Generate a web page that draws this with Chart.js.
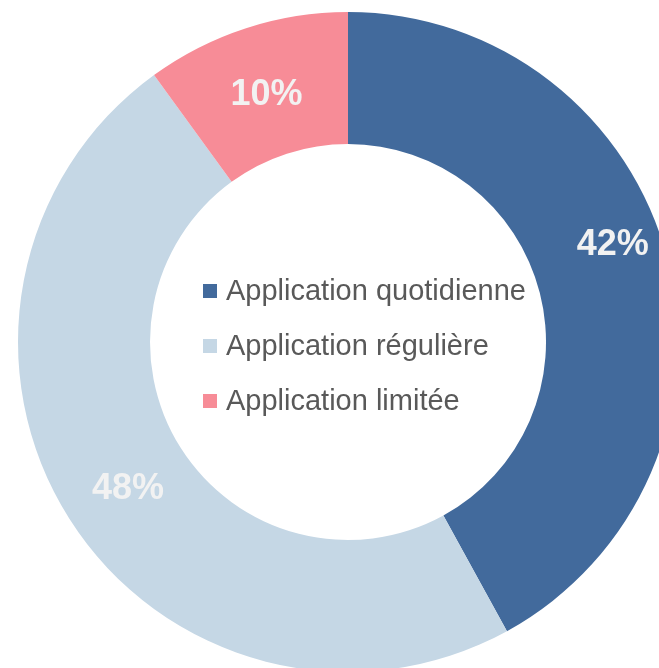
<!DOCTYPE html>
<html><head><meta charset="utf-8">
<script src="https://cdn.jsdelivr.net/npm/chart.js@4"></script>
<style>html,body{margin:0;padding:0;background:#fff;overflow:hidden;width:659px;height:668px}</style>
</head><body>
<canvas id="c" width="678" height="672"></canvas>
<script>
const categories = ["Application quotidienne", "Application régulière", "Application limitée"];
const values = [42, 48, 10];
const valueLabels = ["42%", "48%", "10%"];
const colors = ["#426a9c", "#c5d7e5", "#f78c97"];

const centerLabels = {
  id: 'centerLabels',
  afterDatasetsDraw(chart) {
    const ctx = chart.ctx;
    const meta = chart.getDatasetMeta(0);
    ctx.save();
    ctx.font = 'bold 36px "Liberation Sans", Arial, sans-serif';
    ctx.fillStyle = '#f2f2f2';
    ctx.textAlign = 'center';
    ctx.textBaseline = 'middle';
    const shifts = [[9, -31], [3, 6], [0, 4]];
    meta.data.forEach((arc, i) => {
      const p = arc.tooltipPosition();
      ctx.fillText(valueLabels[i], p.x + shifts[i][0], p.y + shifts[i][1]);
    });
    // legend in the centre
    const cx = meta.data[0].x, cy = meta.data[0].y;
    ctx.font = '29px "Liberation Sans", Arial, sans-serif';
    ctx.textAlign = 'left';
    const rowGap = 55;
    categories.forEach((name, i) => {
      const y = cy - 51 + i * rowGap;
      ctx.fillStyle = colors[i];
      ctx.fillRect(cx - 145, y - 7, 14, 14);
      ctx.fillStyle = '#595959';
      ctx.fillText(name, cx - 122, y + 1);
    });
    ctx.restore();
  }
};

new Chart(document.getElementById('c'), {
  type: 'doughnut',
  data: {
    labels: categories,
    datasets: [{ data: values, backgroundColor: colors, borderWidth: 0 }]
  },
  options: {
    responsive: false,
    animation: false,
    cutout: '60%',
    layout: { padding: { left: 18, top: 12, right: 0, bottom: 0 } },
    plugins: { legend: { display: false }, tooltip: { enabled: false } }
  },
  plugins: [centerLabels]
});
</script>
</body></html>
